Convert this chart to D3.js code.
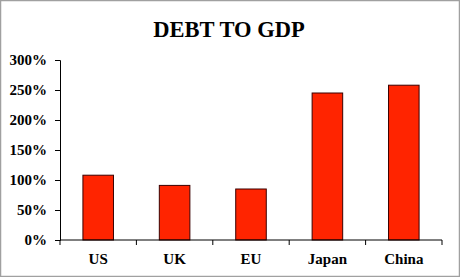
<!DOCTYPE html>
<html>
<head>
<meta charset="utf-8">
<script src="https://cdn.jsdelivr.net/npm/d3@7"></script>
<style>
  body { margin: 0; background: #fff; }
</style>
</head>
<body>
<div id="chart"></div>
<script>
// data
const countries = ["US", "UK", "EU", "Japan", "China"];
const debtPct = [108, 91, 85, 245, 258];
const yTicks = [0, 50, 100, 150, 200, 250, 300];

const width = 460;
const height = 277;
const margins = {top: 60, bottom: 37, left: 60, right: 18};
const font = "Liberation Serif";

const svg = d3.select("#chart")
  .append("svg")
  .attr("width", width)
  .attr("height", height)
  .style("display", "block")
  .attr("font-family", font)
  .attr("font-weight", "bold");

// frame
svg.append("rect")
  .attr("x", 0.5).attr("y", 0.5)
  .attr("width", width - 1).attr("height", height - 1)
  .attr("fill", "#fff")
  .attr("stroke", "#a0a0a0")
  .attr("stroke-width", 1.5);

const xScale = d3.scaleBand()
  .domain(countries)
  .range([margins.left, width - margins.right])
  .paddingInner(0.6)
  .paddingOuter(0.3);

const yScale = d3.scaleLinear()
  .domain([0, 300])
  .range([height - margins.bottom, margins.top]);

// title
svg.append("text")
  .attr("x", 229)
  .attr("y", 37)
  .attr("text-anchor", "middle")
  .attr("font-family", font)
  .attr("font-size", 22.5)
  .text("DEBT TO GDP");

// bars
svg.selectAll("rect.bar")
  .data(countries)
  .join("rect")
  .attr("class", "bar")
  .attr("x", d => xScale(d))
  .attr("width", xScale.bandwidth())
  .attr("y", (d, i) => yScale(debtPct[i]))
  .attr("height", (d, i) => yScale(0) - yScale(debtPct[i]))
  .attr("fill", "#ff2400")
  .attr("stroke", "#3a0000")
  .attr("stroke-width", 1);

// y axis
const yAxis = svg.append("g")
  .attr("transform", `translate(${margins.left},0)`)
  .call(d3.axisLeft(yScale).tickValues(yTicks).tickSize(5).tickPadding(8).tickFormat(d => d + "%"));
yAxis.attr("font-family", font).attr("font-size", 15);
yAxis.selectAll("text").attr("font-family", font).attr("font-size", 15);
yAxis.select(".domain").attr("stroke", "#000");

// x axis
const step = xScale.step();
const xAxis = svg.append("g")
  .attr("transform", `translate(0,${yScale(0)})`);
xAxis.append("line")
  .attr("x1", margins.left).attr("x2", width - margins.right)
  .attr("stroke", "#000");
xAxis.selectAll("line.tick")
  .data(d3.range(countries.length + 1))
  .join("line")
  .attr("class", "tick")
  .attr("x1", i => margins.left + i * step)
  .attr("x2", i => margins.left + i * step)
  .attr("y1", 0).attr("y2", 5)
  .attr("stroke", "#000");
xAxis.selectAll("text")
  .data(countries)
  .join("text")
  .attr("x", d => xScale(d) + xScale.bandwidth() / 2)
  .attr("y", 24)
  .attr("text-anchor", "middle")
  .attr("font-family", font)
  .attr("font-size", 15)
  .text(d => d);
</script>
</body>
</html>
